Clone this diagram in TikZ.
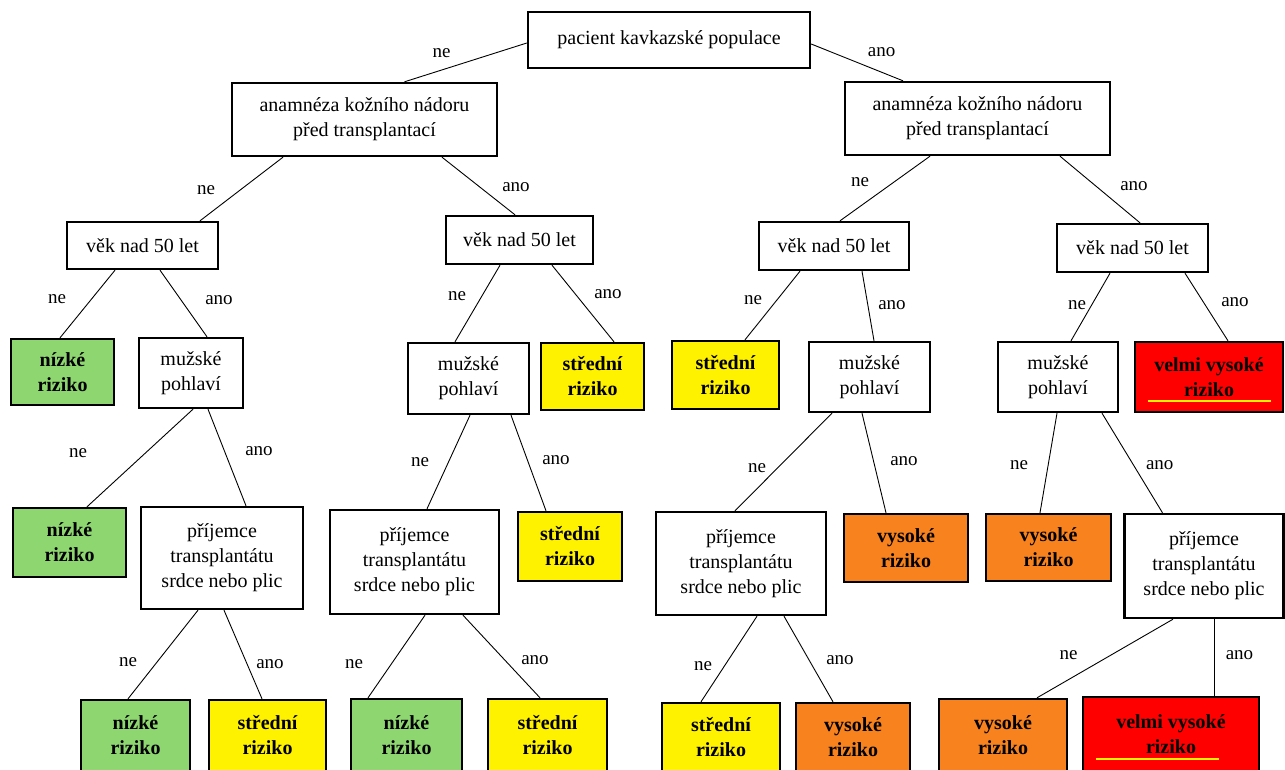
\documentclass[tikz,border=0pt]{standalone}
\usepackage{fontspec}
\setmainfont{Liberation Serif}
\usetikzlibrary{positioning}

\definecolor{lowgreen}{RGB}{142,214,112}
\definecolor{highorange}{RGB}{247,130,30}

\begin{document}
\begin{tikzpicture}[
    x=1pt, y=-1pt,
    qbox/.style={
        rectangle, draw, line width=2.4pt, fill=white,
        align=center, inner sep=2pt,
        font=\fontsize{20}{25}\selectfont
    },
    riskbox/.style={qbox, font=\fontsize{20}{25}\selectfont\bfseries},
    lowrisk/.style={riskbox, fill=lowgreen},
    midrisk/.style={riskbox, fill=yellow},
    highrisk/.style={riskbox, fill=highorange},
    vhighrisk/.style={riskbox, fill=red},
    wh/.style 2 args={minimum width=#1, minimum height=#2},
    ln/.style={line width=0.9pt},
    lbl/.style={font=\fontsize{19}{22}\selectfont, inner sep=0pt},
    uline/.style={yellow, line width=2pt}
]
    \path[use as bounding box, fill=white] (0,0) rectangle (1285,769);

    % root and first question
    \node[qbox, wh={282}{56}] (root) at (669,40) {pacient kavkazské populace};
    \node[qbox, wh={265}{73}] (anl) at (364.5,119.5) {anamnéza kožního nádoru\\před transplantací};
    \node[qbox, wh={265}{73}] (anr) at (977.5,118.5) {anamnéza kožního nádoru\\před transplantací};

    % age
    \node[qbox, wh={151}{47}] (vekA) at (142.5,245.5) {věk nad 50 let};
    \node[qbox, wh={147}{48}] (vekB) at (519.5,240) {věk nad 50 let};
    \node[qbox, wh={150}{48}] (vekC) at (834,246) {věk nad 50 let};
    \node[qbox, wh={151}{48}] (vekD) at (1132.5,248) {věk nad 50 let};

    % sex
    \node[lowrisk, wh={103}{66}] (rA1) at (62.5,372) {nízké\\riziko};
    \node[qbox, wh={104}{70}] (muzA) at (191,373) {mužské\\pohlaví};
    \node[qbox, wh={121}{71}] (muzB) at (468.5,378.5) {mužské\\pohlaví};
    \node[midrisk, wh={103}{67}] (rB1) at (592.5,376.5) {střední\\riziko};
    \node[midrisk, wh={107}{68}] (rC1) at (725.5,375) {střední\\riziko};
    \node[qbox, wh={121}{70}] (muzC) at (869.5,377) {mužské\\pohlaví};
    \node[qbox, wh={120}{70}] (muzD) at (1058,377) {mužské\\pohlaví};
    \node[vhighrisk, wh={148}{70}] (rD1) at (1209,377) {velmi vysoké\\riziko};

    % heart or lung recipient
    \node[lowrisk, wh={113}{69}] (rA2) at (69.5,542.5) {nízké\\riziko};
    \node[qbox, wh={162}{102}] (prjA) at (222,558) {příjemce\\transplantátu\\srdce nebo plic};
    \node[qbox, wh={169}{104}] (prjB) at (414.5,562) {příjemce\\transplantátu\\srdce nebo plic};
    \node[midrisk, wh={104}{69}] (rB2) at (570,546.5) {střední\\riziko};
    \node[qbox, wh={170}{103}] (prjC) at (741,563.5) {příjemce\\transplantátu\\srdce nebo plic};
    \node[highrisk, wh={124}{68}] (rC2) at (906,548) {vysoké\\riziko};
    \node[highrisk, wh={125}{67}] (rD2) at (1048.5,547.5) {vysoké\\riziko};
    \node[qbox, wh={159}{104}] (prjD) at (1204,566) {příjemce\\transplantátu\\srdce nebo plic};

    % bottom row
    \node[lowrisk, wh={109}{71}] (rA3) at (135.5,735.5) {nízké\\riziko};
    \node[midrisk, wh={117}{71}] (rA4) at (267.5,735.5) {střední\\riziko};
    \node[lowrisk, wh={111}{72}] (rB3) at (406.5,735) {nízké\\riziko};
    \node[midrisk, wh={119}{72}] (rB4) at (547.5,735) {střední\\riziko};
    \node[midrisk, wh={118}{68}] (rC3) at (721,737) {střední\\riziko};
    \node[highrisk, wh={114}{68}] (rC4) at (853,737) {vysoké\\riziko};
    \node[highrisk, wh={128}{72}] (rD3) at (1003,735) {vysoké\\riziko};
    \node[vhighrisk, wh={176}{74}] (rD4) at (1171,734) {velmi vysoké\\riziko};

    \draw[uline] ([xshift=14pt,yshift=12pt]rD1.south west) -- ([xshift=-13pt,yshift=12pt]rD1.south east);
    \draw[uline] ([xshift=14pt,yshift=13pt]rD4.south west) -- ([xshift=-41pt,yshift=13pt]rD4.south east);

    % connectors
    \draw[ln] ([yshift=-3pt]root.west) -- ([xshift=40pt]anl.north) node[lbl, midway, shift={(-24,-9.5)}] {ne};
    \draw[ln] ([yshift=-4pt]root.east) -- ([xshift=-74.5pt]anr.north) node[lbl, midway, shift={(24.5,-10)}] {ano};

    \draw[ln] ([xshift=-81.5pt]anl.south) -- ([xshift=57.5pt]vekA.north) node[lbl, midway, shift={(-35.5,1)}] {ne};
    \draw[ln] ([xshift=77.5pt]anl.south) -- ([xshift=-4.5pt]vekB.north) node[lbl, midway, shift={(37.5,1)}] {ano};
    \draw[ln] ([xshift=-47.5pt]anr.south) -- ([xshift=6pt]vekC.north) node[lbl, midway, shift={(-25,-6)}] {ne};
    \draw[ln] ([xshift=82.5pt]anr.south) -- ([xshift=7.5pt]vekD.north) node[lbl, midway, shift={(34,-3.5)}] {ano};

    \draw[ln] ([xshift=-27.5pt]vekA.south) -- ([xshift=-2.5pt]rA1.north) node[lbl, midway, shift={(-30.5,-5)}] {ne};
    \draw[ln] ([xshift=17.5pt]vekA.south) -- ([xshift=16pt]muzA.north) node[lbl, midway, shift={(35.5,-3.5)}] {ano};
    \draw[ln] ([xshift=-19.5pt]vekB.south) -- ([xshift=-13.5pt]muzB.north) node[lbl, midway, shift={(-20.5,-7.5)}] {ne};
    \draw[ln] ([xshift=32.5pt]vekB.south) -- ([xshift=21.5pt]rB1.north) node[lbl, midway, shift={(25,-9.5)}] {ano};
    \draw[ln] ([xshift=-34pt]vekC.south) -- ([xshift=19.5pt]rC1.north) node[lbl, midway, shift={(-19.5,-5.5)}] {ne};
    \draw[ln] ([xshift=28pt]vekC.south) -- ([xshift=4.5pt]muzC.north) node[lbl, midway, shift={(24,-1)}] {ano};
    \draw[ln] ([xshift=-22.5pt]vekD.south) -- ([xshift=13pt]muzD.north) node[lbl, midway, shift={(-13.5,-2)}] {ne};
    \draw[ln] ([xshift=52.5pt]vekD.south) -- ([xshift=19pt]rD1.north) node[lbl, midway, shift={(28.5,-5)}] {ano};

    \draw[ln] ([xshift=2pt]muzA.south) -- ([xshift=17.5pt]rA2.north) node[lbl, midway, shift={(-62,-5)}] {ne};
    \draw[ln] ([xshift=17pt]muzA.south) -- ([xshift=24pt]prjA.north) node[lbl, midway, shift={(32,-6.5)}] {ano};
    \draw[ln] ([xshift=1.5pt]muzB.south) -- ([xshift=12.5pt]prjB.north) node[lbl, midway, shift={(-28.5,0)}] {ne};
    \draw[ln] ([xshift=42.5pt]muzB.south) -- ([xshift=-24pt]rB2.north) node[lbl, midway, shift={(27.5,-3)}] {ano};
    \draw[ln] ([xshift=-37.5pt]muzC.south) -- ([xshift=-6pt]prjC.north) node[lbl, midway, shift={(-26.5,6)}] {ne};
    \draw[ln] ([xshift=-7.5pt]muzC.south) -- ([xshift=-20pt]rC2.north) node[lbl, midway, shift={(30,-2)}] {ano};
    \draw[ln] ([xshift=-1pt]muzD.south) -- ([xshift=-8.5pt]rD2.north) node[lbl, midway, shift={(-29.5,2)}] {ne};
    \draw[ln] ([xshift=44pt]muzD.south) -- ([xshift=-41.5pt]prjD.north) node[lbl, midway, shift={(27.5,2)}] {ano};

    \draw[ln] ([xshift=-24pt]prjA.south) -- ([xshift=-7.5pt]rA3.north) node[lbl, midway, shift={(-35,7.5)}] {ne};
    \draw[ln] ([xshift=2pt]prjA.south) -- ([xshift=-5.5pt]rA4.north) node[lbl, midway, shift={(27,9.5)}] {ano};
    \draw[ln] ([xshift=10.5pt]prjB.south) -- ([xshift=-38.5pt]rB3.north) node[lbl, midway, shift={(-42.5,7.5)}] {ne};
    \draw[ln] ([xshift=48.5pt]prjB.south) -- ([xshift=-7.5pt]rB4.north) node[lbl, midway, shift={(33.5,3.5)}] {ano};
    \draw[ln] ([xshift=16pt]prjC.south) -- ([xshift=-20pt]rC3.north) node[lbl, midway, shift={(-26,7)}] {ne};
    \draw[ln] ([xshift=43pt]prjC.south) -- ([xshift=-20pt]rC4.north) node[lbl, midway, shift={(31.5,1)}] {ano};
    \draw[ln] ([xshift=-31pt]prjD.south) -- ([xshift=34pt]rD3.north) node[lbl, midway, shift={(-36.5,-3.5)}] {ne};
    \draw[ln] ([xshift=10pt]prjD.south) -- ([xshift=43pt]rD4.north) node[lbl, midway, shift={(25.5,-2.5)}] {ano};
\end{tikzpicture}
\end{document}
